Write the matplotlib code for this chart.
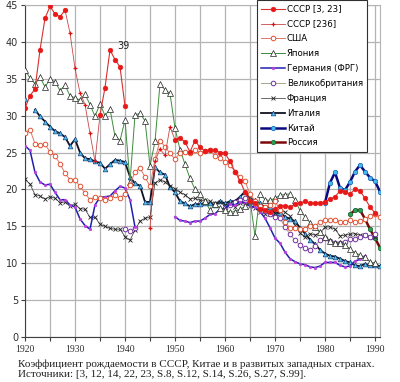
import numpy as np
import matplotlib
matplotlib.use('Agg')
import matplotlib.pyplot as plt

# DATA (birth rate per 1000)
# USSR [3, 23] - three pieces
ussr_y1 = list(range(1920, 1929))
ussr_v1 = [31.0, 32.7, 33.6, 38.9, 43.2, 44.8, 43.8, 43.4, 44.3]
ussr_y2 = list(range(1935, 1941))
ussr_v2 = [30.1, 33.8, 38.9, 37.6, 36.6, 31.3]
ussr_y3 = list(range(1950, 1991))
ussr_v3 = [26.7, 27.0, 26.4, 25.1, 26.6, 25.7, 25.2, 25.4, 25.3, 25.0,
           24.9, 23.8, 22.4, 21.2, 19.6, 18.4, 18.2, 17.3, 17.2, 17.0,
           17.4, 17.8, 17.8, 17.6, 18.0, 18.1, 18.4, 18.1, 18.2, 18.2,
           18.3, 18.7, 19.0, 19.8, 19.6, 19.4, 20.0, 19.8, 18.8, 17.6, 16.8]

# USSR [236]
ussr236_y1 = list(range(1928, 1936))
ussr236_v1 = [44.3, 41.2, 36.4, 33.1, 31.5, 27.6, 23.8, 30.1]
ussr236_y2 = list(range(1945, 1951))
ussr236_v2 = [14.8, 23.8, 25.5, 24.6, 28.5, 26.7]

usa_years = list(range(1920, 1992))
usa_vals = [27.7, 28.1, 26.2, 26.0, 26.1, 25.1, 24.5, 23.5, 22.2, 21.3,
            21.3, 20.4, 19.5, 18.6, 19.0, 18.8, 18.6, 18.8, 19.2, 18.8,
            19.4, 20.6, 22.4, 22.9, 21.7, 20.4, 24.1, 26.6, 25.8, 24.9,
            24.1, 24.9, 25.1, 25.0, 25.3, 25.0, 25.2, 25.3, 24.5, 24.3,
            23.7, 23.3, 22.4, 21.7, 21.1, 19.4, 18.4, 17.8, 17.6, 17.9,
            18.4, 17.2, 15.6, 14.8, 14.8, 14.6, 14.6, 15.1, 15.0, 15.6,
            15.9, 15.8, 15.9, 15.6, 15.6, 15.8, 15.6, 15.7, 16.0, 16.4,
            16.7, 16.2]

japan_years = list(range(1920, 1991))
japan_vals = [36.2, 35.1, 34.3, 35.2, 33.9, 34.9, 34.6, 33.4, 34.1, 32.7,
              32.4, 32.1, 32.9, 31.5, 29.9, 31.6, 30.0, 30.9, 27.2, 26.6,
              29.4, 21.0, 30.1, 30.3, 29.3, 23.2, 26.5, 34.3, 33.5, 33.0,
              28.3, 25.4, 23.4, 21.5, 20.0, 19.4, 18.4, 17.2, 18.0, 17.5,
              17.2, 16.9, 17.0, 17.3, 17.7, 18.6, 13.7, 19.4, 18.6, 18.5,
              18.8, 19.2, 19.3, 19.4, 18.6, 17.1, 16.3, 15.5, 14.9, 14.2,
              13.6, 13.0, 12.8, 12.7, 12.5, 11.9, 11.4, 11.1, 10.8, 10.2,
              10.0]

# Germany (FRG)
frg_y1 = list(range(1920, 1943))
frg_v1 = [25.9, 25.3, 22.3, 21.0, 20.6, 20.7, 19.6, 18.6, 18.6, 17.9,
          17.6, 16.0, 15.1, 14.6, 17.9, 18.9, 19.0, 19.1, 19.8, 20.4,
          20.2, 18.6, 14.9]
frg_y2 = list(range(1950, 1989))
frg_v2 = [16.3, 15.8, 15.7, 15.5, 15.7, 15.7, 16.1, 16.6, 16.7, 17.3,
          17.4, 18.0, 17.9, 18.3, 18.2, 17.7, 17.6, 17.0, 16.1, 14.8,
          13.4, 12.7, 11.5, 10.6, 10.2, 9.9, 9.8, 9.5, 9.4, 9.6,
          10.1, 10.1, 10.1, 9.7, 9.5, 9.6, 10.3, 10.5, 11.0]

# Great Britain
gb_y1 = [1940, 1941, 1942]
gb_v1 = [14.6, 14.3, 14.7]
gb_y2 = list(range(1960, 1991))
gb_v2 = [17.5, 17.9, 18.3, 18.5, 18.8, 18.3, 17.9, 17.5, 17.1, 16.6,
         16.2, 16.1, 14.9, 13.9, 13.1, 12.4, 12.0, 11.8, 12.3, 13.1,
         13.4, 13.0, 12.8, 12.8, 12.9, 13.3, 13.3, 13.6, 13.8, 13.6, 13.9]

france_years = list(range(1920, 1991))
france_vals = [21.4, 20.7, 19.3, 19.1, 18.7, 19.0, 18.8, 18.2, 18.3, 17.7,
               18.0, 17.4, 17.3, 16.2, 16.2, 15.3, 15.0, 14.7, 14.6, 14.6,
               13.6, 13.1, 14.5, 15.7, 16.1, 16.2, 20.9, 21.3, 21.0, 20.5,
               20.1, 19.6, 19.3, 18.7, 18.8, 18.5, 18.5, 18.4, 18.1, 18.3,
               17.9, 18.1, 17.6, 18.1, 18.1, 17.7, 17.5, 16.9, 16.7, 16.7,
               16.8, 17.1, 16.9, 16.4, 15.2, 14.1, 13.6, 14.0, 13.8, 14.1,
               14.9, 14.9, 14.6, 13.7, 13.8, 13.9, 14.0, 13.8, 13.8, 13.6, 13.5]

# Italy (no value for 1921)
italy_y1 = [1920]
italy_v1 = [32.2]
italy_y2 = list(range(1922, 1992))
italy_v2 = [30.8, 29.9, 29.2, 28.5, 27.9, 27.6, 27.1, 25.9,
            26.8, 25.0, 24.2, 24.1, 23.8, 23.6, 22.8, 23.4, 24.0, 23.9,
            23.7, 21.7, 20.8, 20.5, 18.3, 18.3, 23.0, 22.3, 22.0, 20.3,
            19.6, 18.4, 18.1, 17.7, 18.0, 18.0, 18.1, 18.1, 17.9, 18.4,
            18.1, 18.4, 18.4, 19.0, 19.7, 18.8, 18.5, 18.1, 17.6, 17.6,
            16.8, 16.8, 16.3, 16.0, 15.7, 14.8, 14.0, 13.2, 12.6, 11.8,
            11.3, 11.0, 10.9, 10.6, 10.3, 10.1, 9.7, 9.6, 9.9, 9.7,
            9.8, 9.6]

china_years = list(range(1980, 1992))
china_vals = [18.2, 20.9, 22.3, 20.2, 19.9, 21.0, 22.4, 23.3, 22.4, 21.6, 21.1, 19.7]

russia_years = list(range(1985, 1992))
russia_vals = [16.6, 17.2, 17.2, 16.0, 14.6, 13.4, 12.1]

labels = ['СССР [3, 23]', 'СССР [236]', 'США', 'Япония', 'Германия (ФРГ)',
          'Великобритания', 'Франция', 'Италия', 'Китай', 'Россия']

caption = ('Коэффициент рождаемости в СССР, Китае и в развитых западных странах.\n'
           'Источники: [3, 12, 14, 22, 23, S.8, S.12, S.14, S.26, S.27, S.99].')


def join(*parts):
    # glue pieces together with a NaN so the line breaks between them
    xs, ys = [], []
    for i in range(0, len(parts), 2):
        if xs:
            xs.append(np.nan)
            ys.append(np.nan)
        xs += list(parts[i])
        ys += list(parts[i + 1])
    return np.array(xs, dtype=float), np.array(ys, dtype=float)


fig = plt.figure(figsize=(4.0, 3.82), dpi=100)
ax = fig.add_axes([0.0625, 0.118, 0.8875, 0.869])

h = {}
x, y = join(russia_years, russia_vals)
h[9], = ax.plot(x, y, color='#7a0a0a', lw=1.8, marker='o', ms=3.2,
                mfc='#2aa050', mec='#106030', mew=0.5, zorder=3)
x, y = join(china_years, china_vals)
h[8], = ax.plot(x, y, color='#0a0a80', lw=1.8, marker='o', ms=3.2,
                mfc='#48b8f0', mec='#1060b0', mew=0.5, zorder=3)
x, y = join(italy_y1, italy_v1, italy_y2, italy_v2)
h[7], = ax.plot(x, y, color='#101020', lw=1.3, marker='^', ms=3.4,
                mfc='#50c0e8', mec='#104080', mew=0.5, zorder=3)
x, y = join(france_years, france_vals)
h[6], = ax.plot(x, y, color='#303030', lw=0.5, marker='x', ms=3.4,
                mec='#202020', mew=0.6, zorder=3)
x, y = join(gb_y1, gb_v1, gb_y2, gb_v2)
h[5], = ax.plot(x, y, color='#a8a890', lw=0.7, marker='o', ms=3.3,
                mfc='white', mec='#7030a0', mew=0.7, zorder=3)
x, y = join(frg_y1, frg_v1, frg_y2, frg_v2)
h[4], = ax.plot(x, y, color='#2020b0', lw=1.1, marker='o', ms=2.0,
                mfc='#c040e0', mec='#c040e0', mew=0.3, zorder=3)
x, y = join(japan_years, japan_vals)
h[3], = ax.plot(x, y, color='#3c8c3c', lw=0.7, marker='^', ms=3.8,
                mfc='white', mec='#202020', mew=0.5, zorder=3)
x, y = join(usa_years, usa_vals)
h[2], = ax.plot(x, y, color='#e07868', lw=0.7, marker='o', ms=3.3,
                mfc='white', mec='#e05030', mew=0.7, zorder=4)
x, y = join(ussr236_y1, ussr236_v1, ussr236_y2, ussr236_v2)
h[1], = ax.plot(x, y, color='#c84848', lw=0.6, marker='+', ms=2.6,
                mec='#e01010', mew=0.9, zorder=4)
x, y = join(ussr_y1, ussr_v1, ussr_y2, ussr_v2, ussr_y3, ussr_v3)
h[0], = ax.plot(x, y, color='#d83030', lw=0.8, marker='o', ms=3.4,
                mfc='#e81818', mec='#e81818', mew=0.4, zorder=5)

ax.annotate('39', xy=(ussr_y2[2], ussr_v2[2]), xytext=(5, 1),
            textcoords='offset points', fontsize=7, color='#202020',
            family='DejaVu Sans')

ax.set_xlim(1920, 1991)
ax.set_ylim(0, 45)
ax.set_xticks(range(1920, 1991, 5))
ax.set_xticklabels([str(t) if t % 10 == 0 else '' for t in range(1920, 1991, 5)],
                   family='Liberation Serif', fontsize=7, color='#303030')
ax.set_yticks(range(0, 46, 5))
ax.set_yticklabels([str(t) for t in range(0, 46, 5)], fontsize=7, color='#303030')
ax.tick_params(axis='both', length=3, width=0.8, color='#404040', pad=2)
ax.tick_params(axis='x', pad=3)
ax.grid(True, color='#b4b4b4', lw=0.9)
ax.set_axisbelow(True)
for s in ['top', 'right']:
    ax.spines[s].set_color('#b4b4b4')
for s in ['left', 'bottom']:
    ax.spines[s].set_color('#404040')

leg = fig.legend([h[i] for i in range(10)], labels, loc='upper left',
                 bbox_to_anchor=(0.642, 0.999), fontsize=6.2, frameon=True,
                 fancybox=False, edgecolor='#303030', framealpha=1,
                 handlelength=2.8, handletextpad=0.2, labelspacing=0.68,
                 borderpad=0.5, borderaxespad=0)
leg.get_frame().set_linewidth(0.8)

fig.text(0.045, 0.008, caption, family='Liberation Serif', fontsize=8.0,
         color='#202020', ha='left', va='bottom', linespacing=1.15)

fig.savefig('out.png', dpi=100)
